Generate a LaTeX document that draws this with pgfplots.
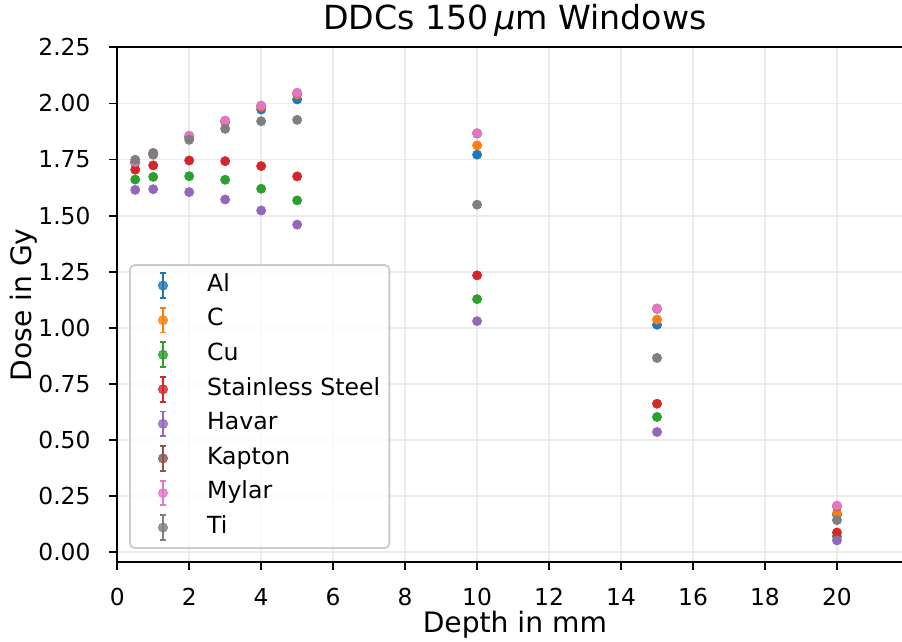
\documentclass[border=0pt]{standalone}
\usepackage{fontspec}
\setmainfont{DejaVu Sans}
\usepackage{pgfplots}
\pgfplotsset{compat=1.18}
\usetikzlibrary{calc}
\definecolor{c0}{HTML}{1F77B4}
\definecolor{c1}{HTML}{FF7F0E}
\definecolor{c2}{HTML}{2CA02C}
\definecolor{c3}{HTML}{D62728}
\definecolor{c4}{HTML}{9467BD}
\definecolor{c5}{HTML}{8C564B}
\definecolor{c6}{HTML}{E377C2}
\definecolor{c7}{HTML}{7F7F7F}
\definecolor{gridc}{HTML}{EBEBEB}
\pgfplotsset{ser/.style={color=#1, mark=*, only marks, mark size=2pt, mark options={solid, fill=#1, draw=#1, line width=0.3pt}}}
\begin{document}
\begin{tikzpicture}
\begin{axis}[
  scale only axis,
  width=347.4pt, height=224.9pt,
  xmin=0, xmax=22.1, ymin=-0.0445, ymax=2.25,
  xtick={0,2,...,20},
  ytick={0,0.25,0.5,0.75,1,1.25,1.5,1.75,2,2.25},
  /pgf/number format/assume math mode=true,
  tick align=outside,
  xtick pos=bottom, ytick pos=left,
  major tick length=3.5pt,
  every tick/.style={black, line width=0.8pt},
  axis line style={line width=0.8pt},
  grid=major,
  major grid style={gridc, line width=0.8pt},
  ticklabel style={font=\fontsize{10.2}{12}\selectfont},
  xticklabel style={inner sep=0pt, anchor=north, yshift=-7.7pt},
  yticklabel style={inner sep=0pt, anchor=east, xshift=-8pt, /pgf/number format/fixed, /pgf/number format/fixed zerofill, /pgf/number format/precision=2},
  xlabel={Depth in mm}, ylabel={Dose in Gy},
  every axis x label/.style={at={(axis description cs:0.5,0)}, yshift=-30.6pt, anchor=base, font=\fontsize{12.3}{14}\selectfont},
  every axis y label/.style={at={(axis description cs:0,0.5)}, xshift=-37.4pt, rotate=90, anchor=base, font=\fontsize{12.3}{14}\selectfont},
  title={DDCs 150\,\textit{μ}m Windows},
  every axis title/.style={at={(axis description cs:0.5,1)}, yshift=8pt, anchor=base, font=\fontsize{14.5}{16}\selectfont},
  legend image code/.code={
    \draw[#1, line width=0.8pt] (10pt,-5.4pt) -- (10pt,5.4pt);
    \draw[#1, line width=0.8pt] (8.55pt,-5.4pt) -- (11.45pt,-5.4pt);
    \draw[#1, line width=0.8pt] (8.55pt,5.4pt) -- (11.45pt,5.4pt);
    \draw[#1] plot coordinates {(10pt,0pt)};
    \path (0pt,0pt) (20pt,0pt);
  },
  legend cell align=left,
  legend style={at={(axis description cs:0,0)}, anchor=south west, xshift=5.2pt, yshift=5.8pt,
    draw=black!20, line width=0.8pt, rounded corners=2pt, fill=white, fill opacity=0.8, text opacity=1,
    font=\fontsize{10.3}{12}\selectfont, inner xsep=4pt, inner ysep=3.15pt,
    row sep=3.5pt, column sep=8.9pt,
    nodes={inner sep=0pt, text height=7.5pt, text depth=2.5pt}},
  legend columns=1,
]
\addplot[ser=c0] coordinates {(0.5,1.735) (1,1.772) (2,1.850) (3,1.918) (4,1.973) (5,2.018) (10,1.772) (15,1.014) (20,0.168)};
\addlegendentry{Al}
\addplot[ser=c1] coordinates {(0.5,1.737) (1,1.775) (2,1.853) (3,1.921) (4,1.985) (5,2.040) (10,1.813) (15,1.037) (20,0.175)};
\addlegendentry{C}
\addplot[ser=c2] coordinates {(0.5,1.661) (1,1.673) (2,1.676) (3,1.660) (4,1.620) (5,1.568) (10,1.128) (15,0.603) (20,0.070)};
\addlegendentry{Cu}
\addplot[ser=c3] coordinates {(0.5,1.705) (1,1.724) (2,1.746) (3,1.743) (4,1.721) (5,1.675) (10,1.234) (15,0.662) (20,0.088)};
\addlegendentry{Stainless Steel}
\addplot[ser=c4] coordinates {(0.5,1.615) (1,1.618) (2,1.605) (3,1.572) (4,1.523) (5,1.460) (10,1.030) (15,0.536) (20,0.053)};
\addlegendentry{Havar}
\addplot[ser=c5] coordinates {(0.5,1.738) (1,1.777) (2,1.855) (3,1.922) (4,1.989) (5,2.046) (10,1.866) (15,1.085) (20,0.205)};
\addlegendentry{Kapton}
\addplot[ser=c6] coordinates {(0.5,1.740) (1,1.780) (2,1.857) (3,1.924) (4,1.991) (5,2.048) (10,1.868) (15,1.087) (20,0.208)};
\addlegendentry{Mylar}
\addplot[ser=c7] coordinates {(0.5,1.749) (1,1.779) (2,1.838) (3,1.887) (4,1.921) (5,1.927) (10,1.549) (15,0.866) (20,0.143)};
\addlegendentry{Ti}
\end{axis}
\pgfresetboundingbox
\path ($(current axis.south west)+(-51.2pt,-34.8pt)$) rectangle ($(current axis.north west)+(342.8pt,20.7pt)$);
\end{tikzpicture}
\end{document}
